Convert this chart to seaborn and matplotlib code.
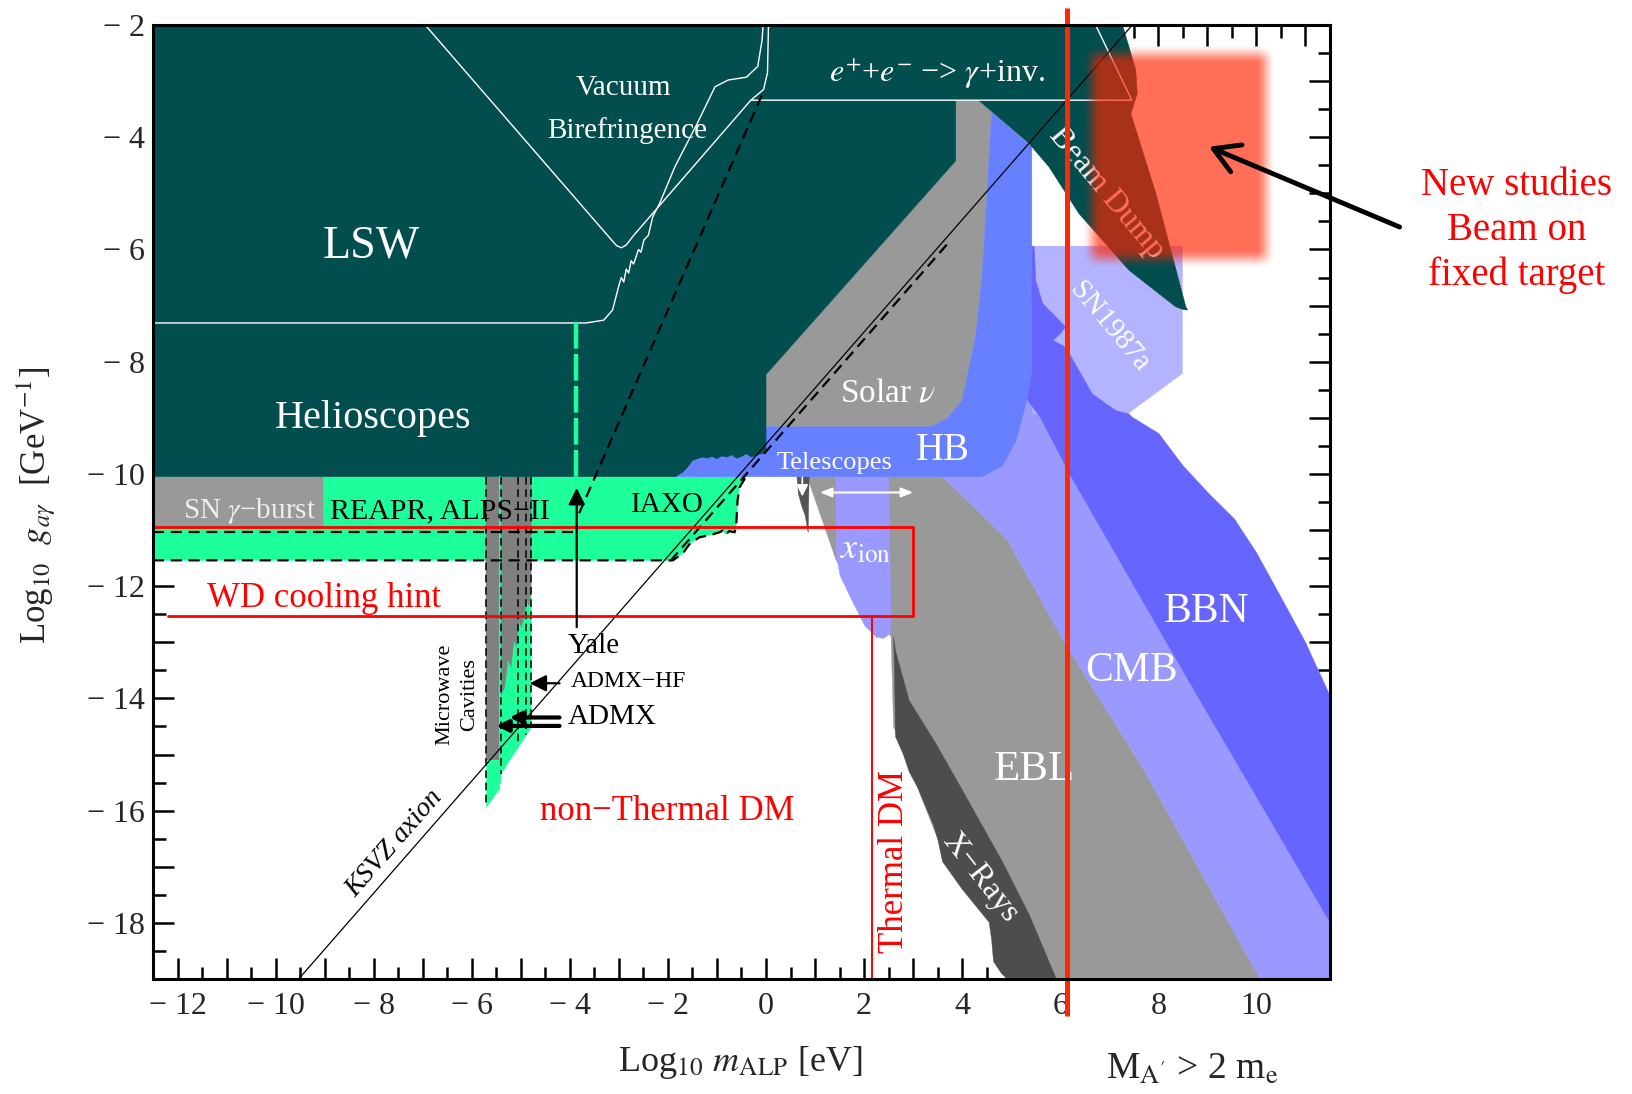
import numpy as np
import pandas as pd
import matplotlib
matplotlib.use("Agg")
import matplotlib.pyplot as plt
import seaborn as sns

# ---------------- data: x = log10 m_ALP [eV], y = log10 g [GeV^-1] ----------------
# LSW / helioscopes / e+e- / beam dump (dark teal)
dark_x = [-12.5, 7.27, 7.54, 7.57, 7.44, 7.95, 8.56, 8.60, 8.50, 8.35, 7.40, 6.38, 5.77, 5.36, 4.33,
          3.87, 3.87, 0.0, 0.0, -0.1, -0.2, -0.3, -0.4, -0.5, -0.6, -0.7, -0.8, -0.9, -1.0, -1.1, -1.2,
          -1.3, -1.4, -1.5, -1.6, -1.7, -1.85, -12.5]
dark_y = [-2.0, -2.0, -2.80, -3.22, -3.58, -5.0, -7.02, -7.08, -7.07, -7.02, -6.37, -5.36, -4.53, -4.11, -3.34,
          -3.34, -4.42, -8.23, -9.62, -9.64, -9.67, -9.70, -9.64, -9.69, -9.72, -9.66, -9.70, -9.68, -9.73, -9.69, -9.72,
          -9.70, -9.73, -9.76, -9.88, -9.97, -10.05, -10.05]
# Solar nu
solar_x = [3.87, 4.33, 4.6, 4.5, 4.4, 4.28, 4.0, 3.7, 3.37, 0.0, 0.0, 3.87]
solar_y = [-3.34, -3.34, -3.55, -5.1, -6.5, -7.5, -8.69, -9.0, -9.16, -9.16, -8.23, -4.42]
# HB
hb_x = [-1.9, -1.6, -0.05, -0.03, 3.37, 3.7, 4.0, 4.28, 4.4, 4.5, 4.6, 5.42, 5.42, 5.30, 5.10, 4.83, 4.4, -1.9]
hb_y = [-10.05, -9.6, -9.5, -9.16, -9.16, -9.0, -8.69, -7.5, -6.5, -5.1, -3.55, -4.17, -8.2, -8.75, -9.4, -9.85, -10.05, -10.05]
# EBL
ebl_x = [0.84, 3.6, 4.92, 6.10, 7.73, 9.96, 10.05, 4.9, 4.6, 3.5, 2.6, 2.55, 1.43]
ebl_y = [-10.05, -10.05, -11.17, -13.02, -15.31, -18.82, -19.0, -19.0, -18.0, -16.5, -14.5, -12.9, -11.54]
# CMB
cmb_x = [3.4, 5.4, 11.5, 11.5, 10.05, 9.96, 7.73, 6.10, 4.92, 3.6]
cmb_y = [-9.6, -8.0, -17.0, -19.0, -19.0, -18.82, -15.31, -13.02, -11.17, -10.05]
# SN1987a
sn87_x = [5.43, 8.49, 8.49, 7.37, 5.43]
sn87_y = [-5.94, -5.94, -8.21, -8.93, -8.93]
# BBN
bbn_x = [5.40, 5.47, 5.50, 5.64, 5.91, 6.11, 6.0, 5.85, 6.11, 6.65, 7.13, 7.40, 7.47, 8.01, 8.5, 9.03, 9.55,
         10.0, 10.46, 11.0, 11.5, 11.5, 8.64, 6.19, 5.6, 5.03, 5.40]
bbn_y = [-5.94, -5.95, -6.55, -6.96, -7.20, -7.38, -7.5, -7.62, -7.74, -8.57, -8.87, -8.93, -8.99, -9.28, -9.85, -10.35, -10.8,
         -11.4, -12.13, -13.0, -13.95, -17.99, -13.72, -10.0, -9.0, -8.33, -8.2]
# X-rays
xray_x = [2.60, 2.62, 2.64, 2.8, 2.92, 3.1, 3.42, 3.5, 3.60, 4.0, 4.55, 4.6, 4.64, 4.8, 4.92, 5.92,
          5.37, 4.82, 4.0, 3.46, 2.92, 2.64]
xray_y = [-12.89, -13.5, -14.68, -15.0, -15.31, -15.6, -16.27, -16.5, -16.91, -17.4, -17.99, -18.3, -18.69, -18.9, -19.0, -19.0,
          -17.86, -16.91, -15.63, -14.8, -14.04, -13.15]
# Telescopes spike
tel_x = [0.63, 0.88, 0.86, 0.80, 0.72, 0.66]
tel_y = [-10.05, -10.05, -11.05, -10.75, -10.55, -10.35]
# x_ion
xion_x = [1.42, 2.50, 2.55, 2.53, 2.4, 2.25, 2.01, 1.75, 1.51, 1.43]
xion_y = [-10.05, -10.05, -12.6, -12.85, -12.93, -12.91, -12.7, -12.25, -11.81, -11.43]
# REAPR, ALPS-II, IAXO
green_x = [-12.5, -0.41, -0.54, -0.58, -0.61, -0.64, -0.75, -0.82, -0.88, -0.95, -1.1, -1.2, -1.36, -1.56, -1.70, -1.90, -12.5]
green_y = [-10.05, -10.05, -10.24, -10.47, -10.95, -11.04, -11.02, -11.08, -11.01, -11.04, -11.08, -11.1, -11.13, -11.25, -11.42, -11.54, -11.54]
# SN gamma-burst
sng_x = [-12.5, -9.04, -9.04, -12.5]
sng_y = [-10.05, -10.05, -10.92, -10.92]
# Microwave cavities
mc_gray1_x = [-5.70, -5.43, -5.43, -5.70]
mc_gray1_y = [-10.05, -10.05, -15.1, -15.1]
mc_green1_x = [-5.70, -5.43, -5.43, -5.70]
mc_green1_y = [-15.1, -15.1, -15.61, -15.94]
mc_green2_x = [-5.40, -4.79, -4.79, -5.40]
mc_green2_y = [-12.0, -12.0, -14.52, -15.34]
mc_gray2_x = [-5.40, -4.79, -4.79, -4.84, -4.88, -4.93, -4.99, -5.04, -5.09, -5.14, -5.20, -5.26, -5.33, -5.40]
mc_gray2_y = [-10.05, -10.05, -12.1, -12.35, -12.2, -12.55, -12.73, -12.6, -13.08, -12.95, -13.44, -13.3, -13.8, -13.95]
mc_dash_x = [-5.70, -5.40, -5.06, -4.90, -4.79]
mc_dash_bottom = [-15.94, -15.34, -14.85, -14.65, -14.52]

# lines
ksvz_x = [-9.53, 7.47]
ksvz_y = [-19.0, -2.0]
proj_steep_x = [-3.81, -0.04]
proj_steep_y = [-10.7, -3.16]
proj_par_x = [-1.95, 3.75]
proj_par_y = [-11.55, -5.85]
lsw_x = [-12.5, -3.67, -3.31, -3.13, -2.99, -2.95, -2.9, -2.85, -2.8, -2.75, -2.7, -2.6, -2.55, -2.49, -2.4,
         -2.31, -2.17, -1.86, -1.40, -1.04, -0.77, -0.40, -0.17, -0.08, -0.06]
lsw_y = [-7.31, -7.31, -7.26, -7.08, -6.61, -6.5, -6.58, -6.35, -6.42, -6.2, -6.26, -6.0, -6.05, -5.83, -5.75,
         -5.42, -5.18, -4.53, -3.75, -3.10, -2.98, -2.93, -2.74, -2.27, -2.0]
vb_x = [-6.95, -3.2, -3.05, -2.95, -2.85, -2.7, -0.31, -0.05, 0.03, 0.05]
vb_y = [-2.0, -5.78, -5.93, -5.97, -5.92, -5.75, -3.34, -3.15, -2.85, -2.0]
ee_x = [-0.31, 7.46, 6.72]
ee_y = [-3.34, -3.34, -2.0]
iaxo_outline_x = [-12.5, -1.90, -1.70, -1.56, -1.36, -1.2, -1.1, -0.95, -0.88, -0.82, -0.75, -0.64, -0.61, -0.58, -0.54, -0.41]
iaxo_outline_y = [-11.54, -11.54, -11.42, -11.25, -11.13, -11.1, -11.08, -11.04, -11.01, -11.08, -11.02, -11.04, -10.95, -10.47, -10.24, -10.05]
alps_dash_x = [-12.5, -3.9]
alps_dash_y = [-11.04, -11.04]
helio_green_x = [-3.87, -3.87]
helio_green_y = [-7.3, -10.05]
wd_x = [-12.5, 3.0, 3.0, -12.2]
wd_y = [-10.94, -10.94, -12.53, -12.53]
thermal_x = [2.17, 2.17]
thermal_y = [-12.53, -19.0]
beam_x = [6.13, 6.13]
beam_y = [-1.70, -19.66]
glow_box = [6.45, 10.4, -6.35, -2.35]

x_tick_vals = [-12, -10, -8, -6, -4, -2, 0, 2, 4, 6, 8, 10]
x_tick_labels = ["− 12", "− 10", "− 8", "− 6", "− 4", "− 2", "0", "2", "4", "6", "8", "10"]
y_tick_vals = [-18, -16, -14, -12, -10, -8, -6, -4, -2]
y_tick_labels = ["− 18", "− 16", "− 14", "− 12", "− 10", "− 8", "− 6", "− 4", "− 2"]

# ---------------- style ----------------
sns.set_theme(style="white")
plt.rcParams.update({
    "font.family": ["Liberation Serif", "DejaVu Serif"],
    "mathtext.fontset": "stix",
    "axes.unicode_minus": True,
    "axes.edgecolor": "black",
    "axes.linewidth": 2.2,
})

TEAL = "#024d4d"
GRAY = "#999999"
DGRAY = "#4d4d4d"
HBC = "#6680ff"
BBNC = "#6666ff"
LAV = "#9999ff"
LLAV = "#b3b3ff"
GREEN = "#1cff9a"
RED = "#ff0000"
BRED = "#ff2800"

fig = plt.figure(figsize=(16.33, 10.94), dpi=100)
ax = fig.add_axes([153 / 1633, 115 / 1094, 1177 / 1633, 954 / 1094])

regions = [
    (ebl_x, ebl_y, GRAY, 1.0),
    (cmb_x, cmb_y, LAV, 1.1),
    (sn87_x, sn87_y, LLAV, 1.2),
    (bbn_x, bbn_y, BBNC, 1.3),
    (xray_x, xray_y, DGRAY, 1.4),
    (tel_x, tel_y, "#555555", 1.45),
    (xion_x, xion_y, LAV, 1.5),
    (green_x, green_y, GREEN, 1.6),
    (sng_x, sng_y, GRAY, 1.7),
    (mc_gray1_x, mc_gray1_y, "#808080", 1.8),
    (mc_green1_x, mc_green1_y, GREEN, 1.8),
    (mc_green2_x, mc_green2_y, GREEN, 1.8),
    (mc_gray2_x, mc_gray2_y, "#808080", 1.85),
    (solar_x, solar_y, GRAY, 2.0),
    (hb_x, hb_y, HBC, 2.1),
    (dark_x, dark_y, TEAL, 2.2),
]
for rx, ry, c, z in regions:
    ax.fill(rx, ry, facecolor=c, edgecolor=c, lw=0.3, zorder=z)

def sline(x, y, **kw):
    sns.lineplot(data=pd.DataFrame({"x": x, "y": y}), x="x", y="y", sort=False,
                 estimator=None, ax=ax, **kw)

# white boundary curves
sline(lsw_x, lsw_y, color="white", lw=1.0, zorder=3)
sline(vb_x, vb_y, color="white", lw=1.0, zorder=3)
sline(ee_x, ee_y, color="white", lw=1.0, zorder=3)
# KSVZ
sline(ksvz_x, ksvz_y, color="black", lw=0.9, zorder=3.2)
# dashed projections
dash = (0, (5, 3))
for xx, yy in [(proj_steep_x, proj_steep_y), (proj_par_x, proj_par_y),
               (iaxo_outline_x, iaxo_outline_y), (alps_dash_x, alps_dash_y)]:
    sline(xx, yy, color="black", lw=1.6, linestyle=dash, zorder=3.1)
for xd, yb in zip(mc_dash_x, mc_dash_bottom):
    ax.plot([xd, xd], [-10.05, yb], color="black", lw=1.1, linestyle=(0, (5, 3)), zorder=3.1)
ax.plot([-5.42, -5.42], [-10.05, -15.5], color=GREEN, lw=1.5, zorder=3.0)
ax.plot(helio_green_x, helio_green_y, color=GREEN, lw=3.2, linestyle=(0, (6, 1.2)), zorder=3.0)

# red lines
ax.plot(wd_x, wd_y, color=RED, lw=2.0, zorder=3.3)
ax.plot(thermal_x, thermal_y, color=RED, lw=1.4, zorder=3.3)

# arrows
def arr(x0, y0, x1, y1, color="black", lw=1.5, hl=0.5, hw=0.25, ms=20):
    ax.annotate("", xy=(x1, y1), xytext=(x0, y0),
                arrowprops=dict(arrowstyle=f"-|>,head_length={hl},head_width={hw}",
                                color=color, lw=lw, mutation_scale=ms, shrinkA=0, shrinkB=0),
                zorder=4)
arr(-3.86, -12.73, -3.86, -10.25, lw=1.6)
arr(-4.21, -13.73, -4.82, -13.73, lw=1.6)
arr(-4.21, -14.34, -5.23, -14.34, lw=3.0, ms=14)
arr(-4.21, -14.49, -5.50, -14.49, lw=3.0, ms=14)
arr(0.74, -10.06, 0.74, -10.4, color="white", lw=1.2, ms=14)
ax.annotate("", xy=(1.1, -10.33), xytext=(3.0, -10.33),
            arrowprops=dict(arrowstyle="<|-|>,head_length=0.5,head_width=0.2", color="white",
                            lw=1.5, mutation_scale=14, shrinkA=0, shrinkB=0), zorder=4)

# text labels
def t(x, y, s, size, color="white", **kw):
    ax.text(x, y, s, fontsize=size, color=color, ha="center", va="center", zorder=4, **kw)

t(-8.04, -5.95, "LSW", 33)
t(-8.02, -9.02, "Helioscopes", 29)
t(-2.90, -3.13, "Vacuum", 21)
t(-2.84, -3.88, "Birefringence", 21)
t(3.48, -2.86, r"$e^{+}$+$e^{-}$ −> $\gamma$+inv.", 23)
t(6.95, -5.0, "Beam Dump", 23, rotation=-50, rotation_mode="anchor")
t(6.99, -7.38, "SN1987a", 21, rotation=-50, rotation_mode="anchor")
t(2.48, -8.57, r"Solar $\nu$", 24)
t(3.60, -9.59, "HB", 28)
t(1.4, -9.80, "Telescopes", 19)
t(2.03, -11.35, r"$x_{\rm ion}$", 26)
t(7.46, -13.5, "CMB", 30)
t(8.98, -12.45, "BBN", 30)
t(5.48, -15.28, "EBL", 31)
t(4.37, -17.19, "X−Rays", 23, rotation=-52, rotation_mode="anchor")
t(2.62, -16.91, "Thermal DM", 25, color=RED, rotation=90)
t(-2.02, -16.01, "non−Thermal DM", 25, color=RED)
t(-9.02, -12.22, "WD cooling hint", 25, color=RED)
t(-10.54, -10.66, r"SN $\gamma$−burst", 21, color="#eeeeee")
t(-6.66, -10.66, "REAPR, ALPS−II", 21.5, color="black")
t(-2.02, -10.55, "IAXO", 21, color="black")
t(-3.52, -13.07, "Yale", 21, color="black")
t(-2.81, -13.70, "ADMX−HF", 17, color="black")
t(-3.13, -14.34, "ADMX", 21, color="black")
t(-6.54, -13.93, "Microwave", 16, color="black", rotation=90)
t(-6.04, -13.94, "Cavities", 16, color="black", rotation=90)
t(-7.58, -16.59, "KSVZ axion", 20, color="black", rotation=48.8, style="italic", rotation_mode="anchor")

# soft red glow (new studies region)
gx0, gx1, gy0, gy1 = glow_box
xs = np.linspace(gx0, gx1, 400)
ys = np.linspace(gy0, gy1, 400)
fx, fy = 0.4, 0.35
axx = np.clip(np.minimum(xs - gx0, gx1 - xs) / fx, 0, 1)
ayy = np.clip(np.minimum(ys - gy0, gy1 - ys) / fy, 0, 1)
sm = lambda v: v * v * (3 - 2 * v)
alpha = np.outer(sm(ayy), sm(axx)) * 0.66
img = np.zeros((len(ys), len(xs), 4))
img[..., 0] = 1.0
img[..., 1] = 35 / 255
img[..., 2] = 0.0
img[..., 3] = alpha
ax.imshow(img, extent=[gx0, gx1, gy0, gy1], origin="lower", aspect="auto", zorder=5,
          interpolation="bilinear")

# big red vertical line
ax.plot(beam_x, beam_y, color=BRED, lw=3.6, zorder=6, clip_on=False, solid_capstyle="butt")

# annotation outside
ax.text(15.3, -5.66, "New studies\nBeam on\nfixed target", fontsize=28, color=RED,
        ha="center", va="center", clip_on=False, zorder=6, linespacing=1.28)
ax.annotate("", xy=(9.03, -4.17), xytext=(12.92, -5.60),
            arrowprops=dict(arrowstyle="->,head_length=0.6,head_width=0.35", color="black",
                            lw=3.5, mutation_scale=30, shrinkA=0, shrinkB=0),
            annotation_clip=False, zorder=7)

# axes
ax.set_xlim(-12.5, 11.5)
ax.set_ylim(-19, -2)
ax.set_xticks(list(range(-12, 12)))
ax.set_xticklabels([x_tick_labels[x_tick_vals.index(v)] if v in x_tick_vals else "" for v in range(-12, 12)])
ax.set_yticks(list(range(-19, -1)))
ax.set_yticklabels([y_tick_labels[y_tick_vals.index(v)] if v in y_tick_vals else "" for v in range(-19, -1)])
ax.set_xticks(np.arange(-12.5, 11.6, 1.0), minor=True)
ax.set_yticks(np.arange(-18.5, -2.0, 1.0), minor=True)
ax.tick_params(which="both", direction="in", top=True, right=True, bottom=True, left=True,
               color="black", width=1.8, zorder=8)
ax.tick_params(which="major", length=15, labelsize=23, pad=9)
ax.tick_params(which="minor", length=9)
ax.tick_params(axis="y", which="major", pad=6)
for sp in ax.spines.values():
    sp.set_zorder(8)
    sp.set_linewidth(2.2)

ax.set_xlabel(r"Log$_{10}$ $m_{\rm ALP}$ [eV]", fontsize=26)
ax.xaxis.set_label_coords(0.4987, -0.088)
ax.xaxis.label.set_va("center")
ax.set_ylabel(r"Log$_{10}$  $g_{a\gamma}$  [GeV$^{-1}$]", fontsize=25)
ax.yaxis.set_label_coords(-0.099, 0.497)
ax.yaxis.label.set_va("center")
ax.text(0.883, -0.095, r"M$_{\rm A'}$ > 2 m$_{\rm e}$", transform=ax.transAxes, fontsize=27,
        ha="center", va="center", clip_on=False)

fig.savefig("out.png", dpi=100)
